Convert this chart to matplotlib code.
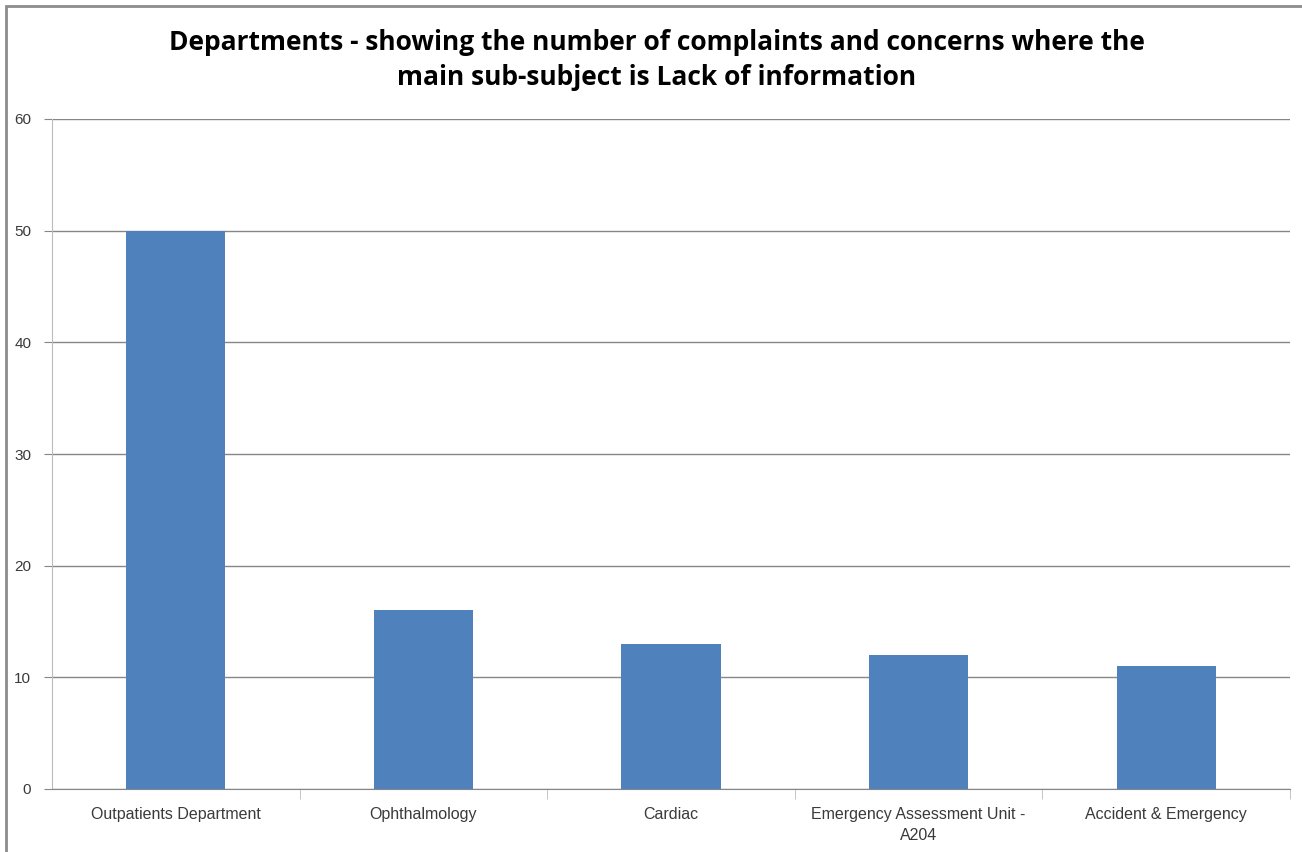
import matplotlib
matplotlib.use("Agg")
import matplotlib.pyplot as plt
from matplotlib.patches import Rectangle

# data
departments = ["Outpatients Department", "Ophthalmology", "Cardiac",
               "Emergency Assessment Unit -\nA204", "Accident & Emergency"]
counts = [50, 16, 13, 12, 11]
yticks = [0, 10, 20, 30, 40, 50, 60]

bar_color = "#4F81BD"
grid_color = "#868686"

fig = plt.figure(figsize=(13.02, 8.52), dpi=100)
W, H = 1302, 852

# plot area in pixels: left 52, right 1290, top 119, bottom 789
ax = fig.add_axes([52 / W, 1 - 789 / H, (1290 - 52) / W, (789 - 119) / H])

x = list(range(len(departments)))
ax.bar(x, counts, width=0.4, color=bar_color, zorder=3)

ax.set_xlim(-0.5, len(departments) - 0.5)
ax.set_ylim(0, 60)
ax.set_yticks(yticks)
ax.set_yticklabels([str(v) for v in yticks], fontsize=11, color="#3A3A3A",
                   family="Liberation Sans")
ax.yaxis.grid(True, color=grid_color, linewidth=1.0, zorder=0)
ax.tick_params(axis="y", length=6, color=grid_color, pad=9)

# category labels centred, separator ticks between categories
ax.set_xticks(x)
ax.set_xticklabels(departments, fontsize=11.5, color="#3A3A3A",
                   family="Liberation Sans", va="top", linespacing=1.5)
ax.tick_params(axis="x", length=0, pad=13)
ax.set_xticks([i + 0.5 for i in x], minor=True)
ax.tick_params(axis="x", which="minor", length=7, color="#BBBBBB")

for side in ["top", "right"]:
    ax.spines[side].set_visible(False)
ax.spines["left"].set_color("#BBBBBB")
ax.spines["bottom"].set_color(grid_color)

fig.text(657 / W, 1 - 60 / H,
         "Departments - showing the number of complaints and concerns where the\n"
         "main sub-subject is Lack of information",
         ha="center", va="center", fontsize=19, fontweight="bold",
         family="Open Sans", linespacing=1.35)

# outer chart border
fig.patches.append(Rectangle((6 / W, -0.05), 1.2, 1 - 6 / H + 0.05,
                             transform=fig.transFigure, fill=False,
                             edgecolor="#8C8C8C", linewidth=2))

fig.savefig("out.png", dpi=100)
